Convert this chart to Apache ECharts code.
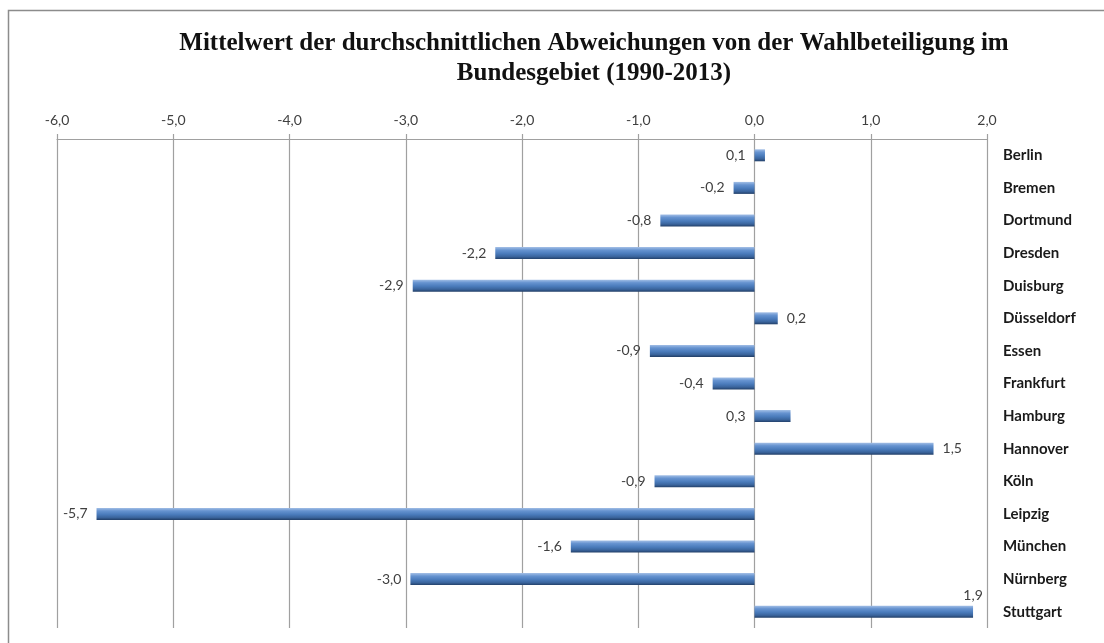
<!DOCTYPE html>
<html>
<head>
<meta charset="utf-8">
<script src="https://cdn.jsdelivr.net/npm/echarts@6/dist/echarts.min.js"></script>
<style>
  html, body { margin: 0; padding: 0; background: #fff; }
  #chart { width: 1104px; height: 643px; }
</style>
</head>
<body>
<div id="chart"></div>
<script>
// Cities (top to bottom) and their mean deviation from turnout
const cities = ['Berlin', 'Bremen', 'Dortmund', 'Dresden', 'Duisburg', 'Düsseldorf', 'Essen', 'Frankfurt',
    'Hamburg', 'Hannover', 'Köln', 'Leipzig', 'München', 'Nürnberg', 'Stuttgart'];
const deviations = [0.09, -0.18, -0.81, -2.23, -2.94, 0.2, -0.9, -0.36, 0.31, 1.54, -0.86, -5.66, -1.58, -2.96, 1.88];
const axisTicks = [-6, -5, -4, -3, -2, -1, 0, 1, 2];

// where each data label sits (everything else: left of the bar)
const labelPlacement = { 'Düsseldorf': 'right', 'Hannover': 'right', 'Stuttgart': 'top' };

const fmt = v => v.toFixed(1).replace('.', ',');

const barColor = new echarts.graphic.LinearGradient(0, 0, 0, 1, [
    { offset: 0, color: '#a3bfe6' },
    { offset: 0.25, color: '#6693d0' },
    { offset: 0.55, color: '#4a7bbb' },
    { offset: 0.8, color: '#3a649c' },
    { offset: 1, color: '#223f68' }
]);

function labelFor(city) {
    const p = labelPlacement[city] || 'left';
    if (p === 'top') {
        return { position: ['100%', -3], align: 'center', verticalAlign: 'bottom' };
    }
    return { position: p, distance: 9 };
}

const chart = echarts.init(document.getElementById('chart'));

chart.setOption({
    animation: false,
    title: {
        text: 'Mittelwert der durchschnittlichen Abweichungen von der Wahlbeteiligung im\nBundesgebiet (1990-2013)',
        left: 589,
        textAlign: 'center',
        top: 24,
        textStyle: {
            fontFamily: 'Liberation Serif',
            fontWeight: 'bold',
            fontSize: 25,
            lineHeight: 30,
            color: '#111'
        }
    },
    graphic: [{
        type: 'rect',
        shape: { x: 8.5, y: 10.5, width: 1200, height: 700 },
        style: { fill: 'none', stroke: '#8c8c8c', lineWidth: 1.5 },
        silent: true
    }],
    grid: { left: 57, right: 1104 - 987, top: 139, bottom: 15, containLabel: false },
    xAxis: {
        type: 'value',
        position: 'top',
        min: axisTicks[0],
        max: axisTicks[axisTicks.length - 1],
        interval: 1,
        axisLine: { show: true, lineStyle: { color: '#a0a0a0', width: 1.2 } },
        axisTick: { show: true, length: 5, lineStyle: { color: '#a0a0a0', width: 1.2 } },
        splitLine: { show: true, lineStyle: { color: '#a0a0a0', width: 1.2 } },
        axisLabel: {
            formatter: fmt,
            margin: 12,
            fontFamily: 'Lato',
            fontSize: 14,
            color: '#404040'
        }
    },
    yAxis: {
        type: 'category',
        data: cities,
        inverse: true,
        position: 'right',
        axisLine: { show: false },
        axisTick: { show: false },
        axisLabel: {
            align: 'left',
            margin: 16,
            fontFamily: 'Lato',
            fontWeight: 'bold',
            fontSize: 15,
            color: '#1a1a1a'
        }
    },
    series: [{
        type: 'bar',
        barWidth: 12,
        data: deviations.map((v, i) => ({
            value: v,
            label: labelFor(cities[i])
        })),
        itemStyle: { color: barColor },
        label: {
            show: true,
            formatter: p => fmt(p.value),
            fontFamily: 'Lato',
            fontSize: 14,
            color: '#404040'
        }
    }]
});
</script>
</body>
</html>
